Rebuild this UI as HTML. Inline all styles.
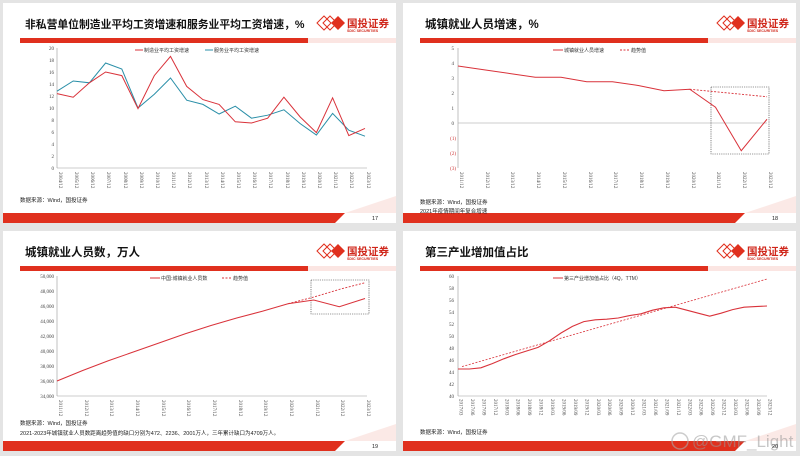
<!DOCTYPE html>
<html><head><meta charset="utf-8"><style>
body{margin:0;background:#e4e4e4;}
svg{display:block;font-family:"Liberation Serif","Noto Serif CJK SC",serif;}
.t{font-family:"Liberation Sans","Noto Sans CJK SC",sans-serif;font-weight:bold;fill:#111;}
.s{font-family:"Liberation Sans","Noto Sans CJK SC",sans-serif;font-size:5.5px;fill:#222;}
.yl{font-size:5px;fill:#444;text-anchor:end;}
.xl{font-size:5px;fill:#444;}
.lg{font-family:"Liberation Sans","Noto Sans CJK SC",sans-serif;font-size:5px;fill:#333;}
</style></head><body>
<svg width="800" height="456" viewBox="0 0 800 456" xmlns="http://www.w3.org/2000/svg">
<defs>
<g id="frame">
<rect x="3" y="3" width="393" height="220" fill="#fff"/>
<rect x="20" y="38" width="288" height="5" fill="#e0301e"/>
<rect x="308" y="38" width="88" height="5" fill="#fbe5e2"/>
<polygon points="3,213 345,213 335,223 3,223" fill="#e0301e"/>
<polygon points="345,213 396,196 396,213" fill="#fbe9e6"/>
<g transform="translate(317,16)">
<polygon points="0,7 7,0 14,7 7,14" fill="none" stroke="#e0301e" stroke-width="1"/>
<polygon points="6,7 13,0 20,7 13,14" fill="none" stroke="#e0301e" stroke-width="1"/>
<polygon points="14,7 21,0 28,7 21,14" fill="#e0301e"/>
</g>
<text x="347" y="27" font-size="10.5" font-weight="bold" fill="#d0271b" font-family="Liberation Sans,Noto Sans CJK SC,sans-serif">国投证券</text>
<text x="347" y="32" font-size="3.6" font-weight="bold" fill="#d0271b" font-family="Liberation Sans,sans-serif">SDIC SECURITIES</text>
</g>
</defs>

<!-- Q1 -->
<g transform="translate(0,0)">
<use href="#frame"/>
<text class="t" x="25" y="28" font-size="10.8">非私营单位制造业平均工资增速和服务业平均工资增速，%</text>
<line x1="57" y1="48" x2="57" y2="168" stroke="#999" stroke-width="0.6"/>
<line x1="57" y1="168" x2="367" y2="168" stroke="#999" stroke-width="0.6"/>
<g class="yl"><text x="54" y="50">20</text><text x="54" y="62">18</text><text x="54" y="74">16</text><text x="54" y="86">14</text><text x="54" y="98">12</text><text x="54" y="110">10</text><text x="54" y="122">8</text><text x="54" y="134">6</text><text x="54" y="146">4</text><text x="54" y="158">2</text><text x="54" y="170">0</text></g>
<g class="xl">
<text transform="translate(59,172) rotate(90)">2004/12</text><text transform="translate(75,172) rotate(90)">2005/12</text><text transform="translate(91,172) rotate(90)">2006/12</text><text transform="translate(107,172) rotate(90)">2007/12</text><text transform="translate(124,172) rotate(90)">2008/12</text><text transform="translate(140,172) rotate(90)">2009/12</text><text transform="translate(156,172) rotate(90)">2010/12</text><text transform="translate(172,172) rotate(90)">2011/12</text><text transform="translate(188,172) rotate(90)">2012/12</text><text transform="translate(205,172) rotate(90)">2013/12</text><text transform="translate(221,172) rotate(90)">2014/12</text><text transform="translate(237,172) rotate(90)">2015/12</text><text transform="translate(253,172) rotate(90)">2016/12</text><text transform="translate(269,172) rotate(90)">2017/12</text><text transform="translate(286,172) rotate(90)">2018/12</text><text transform="translate(302,172) rotate(90)">2019/12</text><text transform="translate(318,172) rotate(90)">2020/12</text><text transform="translate(334,172) rotate(90)">2021/12</text><text transform="translate(350,172) rotate(90)">2022/12</text><text transform="translate(367,172) rotate(90)">2023/12</text>
</g>
<line x1="135" y1="50" x2="143" y2="50" stroke="#d9323a" stroke-width="1"/><text class="lg" x="144" y="52">制造业平均工资增速</text>
<line x1="205" y1="50" x2="213" y2="50" stroke="#2a8fa8" stroke-width="1"/><text class="lg" x="214" y="52">服务业平均工资增速</text>
<polyline fill="none" stroke="#2a8fa8" stroke-width="1" points="57,91.2 73.2,81 89.4,82.8 105.6,63 121.8,69 138,108 154.3,94.2 170.5,78 186.7,100.2 202.9,104.4 219.1,114 235.3,106.2 251.5,118.2 267.7,115.2 283.9,109.8 300.2,123.6 316.4,135 332.6,113.4 348.8,130.2 365,136.2"/>
<polyline fill="none" stroke="#d9323a" stroke-width="1" points="57,93.6 73.2,97.2 89.4,82.8 105.6,72 121.8,75.6 138,108.6 154.3,75.6 170.5,56.4 186.7,86.4 202.9,99.6 219.1,104.4 235.3,121.8 251.5,123 267.7,118.2 283.9,97.2 300.2,117 316.4,132.6 332.6,97.8 348.8,135.6 365,128.4"/>
<text class="s" x="20" y="202">数据来源：Wind，国投证券</text>
<text class="s" x="372" y="220" font-size="4.5" fill="#777">17</text>
</g>

<!-- Q2 -->
<g transform="translate(400,0)">
<use href="#frame"/>
<text class="t" x="25" y="28" font-size="11.5">城镇就业人员增速，%</text>
<line x1="58" y1="48" x2="58" y2="168" stroke="#999" stroke-width="0.6"/>
<line x1="58" y1="123" x2="367" y2="123" stroke="#999" stroke-width="0.6"/>
<g class="yl"><text x="54" y="50">5</text><text x="54" y="65">4</text><text x="54" y="80">3</text><text x="54" y="95">2</text><text x="54" y="110">1</text><text x="54" y="125">0</text><text x="56" y="140" fill="#c33">(1)</text><text x="56" y="155" fill="#c33">(2)</text><text x="56" y="170" fill="#c33">(3)</text></g>
<g class="xl">
<text transform="translate(60,172) rotate(90)">2011/12</text><text transform="translate(86,172) rotate(90)">2012/12</text><text transform="translate(111,172) rotate(90)">2013/12</text><text transform="translate(137,172) rotate(90)">2014/12</text><text transform="translate(163,172) rotate(90)">2015/12</text><text transform="translate(189,172) rotate(90)">2016/12</text><text transform="translate(214,172) rotate(90)">2017/12</text><text transform="translate(240,172) rotate(90)">2018/12</text><text transform="translate(266,172) rotate(90)">2019/12</text><text transform="translate(292,172) rotate(90)">2020/12</text><text transform="translate(317,172) rotate(90)">2021/12</text><text transform="translate(343,172) rotate(90)">2022/12</text><text transform="translate(369,172) rotate(90)">2023/12</text>
</g>
<line x1="153" y1="50" x2="163" y2="50" stroke="#d9323a" stroke-width="1"/><text class="lg" x="164" y="52">城镇就业人员增速</text>
<line x1="220" y1="50" x2="230" y2="50" stroke="#d9323a" stroke-width="1" stroke-dasharray="2,1.5"/><text class="lg" x="231" y="52">趋势值</text>
<rect x="311" y="87" width="58" height="67" fill="none" stroke="#333" stroke-width="0.6" stroke-dasharray="1.2,1"/>
<polyline fill="none" stroke="#d9323a" stroke-width="0.9" stroke-dasharray="2,1.5" points="289.75,89.25 367,96.75"/>
<polyline fill="none" stroke="#d9323a" stroke-width="1" points="58,66 83.75,69.75 109.5,73.5 135.25,77.25 161,77.25 186.75,81.75 212.5,81.75 238.25,85.5 264,90.75 289.75,89.25 315.5,107.25 341.25,150.75 367,119.25"/>
<text class="s" x="20" y="204">数据来源：Wind，国投证券</text>
<text class="s" x="20" y="213">2021年疫情期间年复合增速</text>
<text class="s" x="372" y="220" font-size="4.5" fill="#777">18</text>
</g>

<!-- Q3 -->
<g transform="translate(0,228)">
<use href="#frame"/>
<text class="t" x="25" y="28" font-size="11.5">城镇就业人员数，万人</text>
<line x1="57" y1="48" x2="57" y2="168" stroke="#999" stroke-width="0.6"/>
<line x1="57" y1="168" x2="367" y2="168" stroke="#999" stroke-width="0.6"/>
<g class="yl"><text x="54" y="50">50,000</text><text x="54" y="65">48,000</text><text x="54" y="80">46,000</text><text x="54" y="95">44,000</text><text x="54" y="110">42,000</text><text x="54" y="125">40,000</text><text x="54" y="140">38,000</text><text x="54" y="155">36,000</text><text x="54" y="170">34,000</text></g>
<g class="xl">
<text transform="translate(59,172) rotate(90)">2011/12</text><text transform="translate(85,172) rotate(90)">2012/12</text><text transform="translate(110,172) rotate(90)">2013/12</text><text transform="translate(136,172) rotate(90)">2014/12</text><text transform="translate(162,172) rotate(90)">2015/12</text><text transform="translate(187,172) rotate(90)">2016/12</text><text transform="translate(213,172) rotate(90)">2017/12</text><text transform="translate(239,172) rotate(90)">2018/12</text><text transform="translate(264,172) rotate(90)">2019/12</text><text transform="translate(290,172) rotate(90)">2020/12</text><text transform="translate(316,172) rotate(90)">2021/12</text><text transform="translate(341,172) rotate(90)">2022/12</text><text transform="translate(367,172) rotate(90)">2023/12</text>
</g>
<line x1="150" y1="50" x2="160" y2="50" stroke="#d9323a" stroke-width="1"/><text class="lg" x="161" y="52">中国:城镇就业人员数</text>
<line x1="222" y1="50" x2="232" y2="50" stroke="#d9323a" stroke-width="1" stroke-dasharray="2,1.5"/><text class="lg" x="233" y="52">趋势值</text>
<rect x="311" y="52" width="58" height="34" fill="none" stroke="#333" stroke-width="0.6" stroke-dasharray="1.2,1"/>
<polyline fill="none" stroke="#d9323a" stroke-width="0.9" stroke-dasharray="2,1.5" points="288,75.75 314,69 339,61.5 365,54.75"/>
<polyline fill="none" stroke="#d9323a" stroke-width="1" points="57,153 82.7,142.5 108.3,132.75 134,123.75 159.7,114.75 185.3,105.75 211,97.5 236.7,90 262.3,83.25 288,75.75 313.7,72 339.3,78.75 365,70.5"/>
<text class="s" x="20" y="197">数据来源：Wind，国投证券</text>
<text class="s" x="20" y="207">2021-2023年城镇就业人员数距离趋势值的缺口分别为472、2236、2001万人，三年累计缺口为4709万人。</text>
<text class="s" x="372" y="220" font-size="4.5" fill="#777">19</text>
</g>

<!-- Q4 -->
<g transform="translate(400,228)">
<use href="#frame"/>
<text class="t" x="25" y="28" font-size="11.5">第三产业增加值占比</text>
<line x1="58" y1="48" x2="58" y2="168" stroke="#999" stroke-width="0.6"/>
<line x1="58" y1="168" x2="367" y2="168" stroke="#999" stroke-width="0.6"/>
<g class="yl"><text x="54" y="50">60</text><text x="54" y="62">58</text><text x="54" y="74">56</text><text x="54" y="86">54</text><text x="54" y="98">52</text><text x="54" y="110">50</text><text x="54" y="122">48</text><text x="54" y="134">46</text><text x="54" y="146">44</text><text x="54" y="158">42</text><text x="54" y="170">40</text></g>
<g class="xl" font-size="4">
<text transform="translate(59.5,171) rotate(90)">2017/03</text><text transform="translate(70.9,171) rotate(90)">2017/06</text><text transform="translate(82.4,171) rotate(90)">2017/09</text><text transform="translate(93.8,171) rotate(90)">2017/12</text><text transform="translate(105.3,171) rotate(90)">2018/03</text><text transform="translate(116.7,171) rotate(90)">2018/06</text><text transform="translate(128.1,171) rotate(90)">2018/09</text><text transform="translate(139.6,171) rotate(90)">2018/12</text><text transform="translate(151,171) rotate(90)">2019/03</text><text transform="translate(162.5,171) rotate(90)">2019/06</text><text transform="translate(173.9,171) rotate(90)">2019/09</text><text transform="translate(185.3,171) rotate(90)">2019/12</text><text transform="translate(196.8,171) rotate(90)">2020/03</text><text transform="translate(208.2,171) rotate(90)">2020/06</text><text transform="translate(219.7,171) rotate(90)">2020/09</text><text transform="translate(231.1,171) rotate(90)">2020/12</text><text transform="translate(242.5,171) rotate(90)">2021/03</text><text transform="translate(254,171) rotate(90)">2021/06</text><text transform="translate(265.4,171) rotate(90)">2021/09</text><text transform="translate(276.9,171) rotate(90)">2021/12</text><text transform="translate(288.3,171) rotate(90)">2022/03</text><text transform="translate(299.7,171) rotate(90)">2022/06</text><text transform="translate(311.2,171) rotate(90)">2022/09</text><text transform="translate(322.6,171) rotate(90)">2022/12</text><text transform="translate(334.1,171) rotate(90)">2023/03</text><text transform="translate(345.5,171) rotate(90)">2023/06</text><text transform="translate(356.9,171) rotate(90)">2023/09</text><text transform="translate(368.4,171) rotate(90)">2023/12</text>
</g>
<line x1="153" y1="50" x2="163" y2="50" stroke="#d9323a" stroke-width="1"/><text class="lg" x="164" y="52">第三产业增加值占比（4Q，TTM）</text>
<polyline fill="none" stroke="#d9323a" stroke-width="0.8" stroke-dasharray="2,1.5" points="62,138.6 367,51"/>
<polyline fill="none" stroke="#d9323a" stroke-width="1.1" points="58,141 69.4,141 80.9,139.8 92.3,135.6 103.8,130.8 115.2,126.6 126.6,123 138.1,119.4 149.5,112.8 161,105 172.4,98.4 183.8,93.6 195.3,91.8 206.7,91.2 218.2,90 229.6,87.6 241,85.8 252.5,82.2 263.9,79.8 275.4,79.2 286.8,82.2 298.2,85.2 309.7,88.2 321.1,85.2 332.6,81.6 344,79.2 355.4,78.6 367,78"/>
<text class="s" x="20" y="206">数据来源：Wind，国投证券</text>
<text x="292" y="219" font-size="17" fill="#999" fill-opacity="0.55" font-family="Liberation Sans,sans-serif">@GMF_Light</text>
<circle cx="280" cy="213" r="8" fill="none" stroke="#aaa" stroke-opacity="0.6" stroke-width="1.5"/>
<text class="s" x="372" y="220" font-size="4.5" fill="#777">20</text>
</g>
</svg>
</body></html>
